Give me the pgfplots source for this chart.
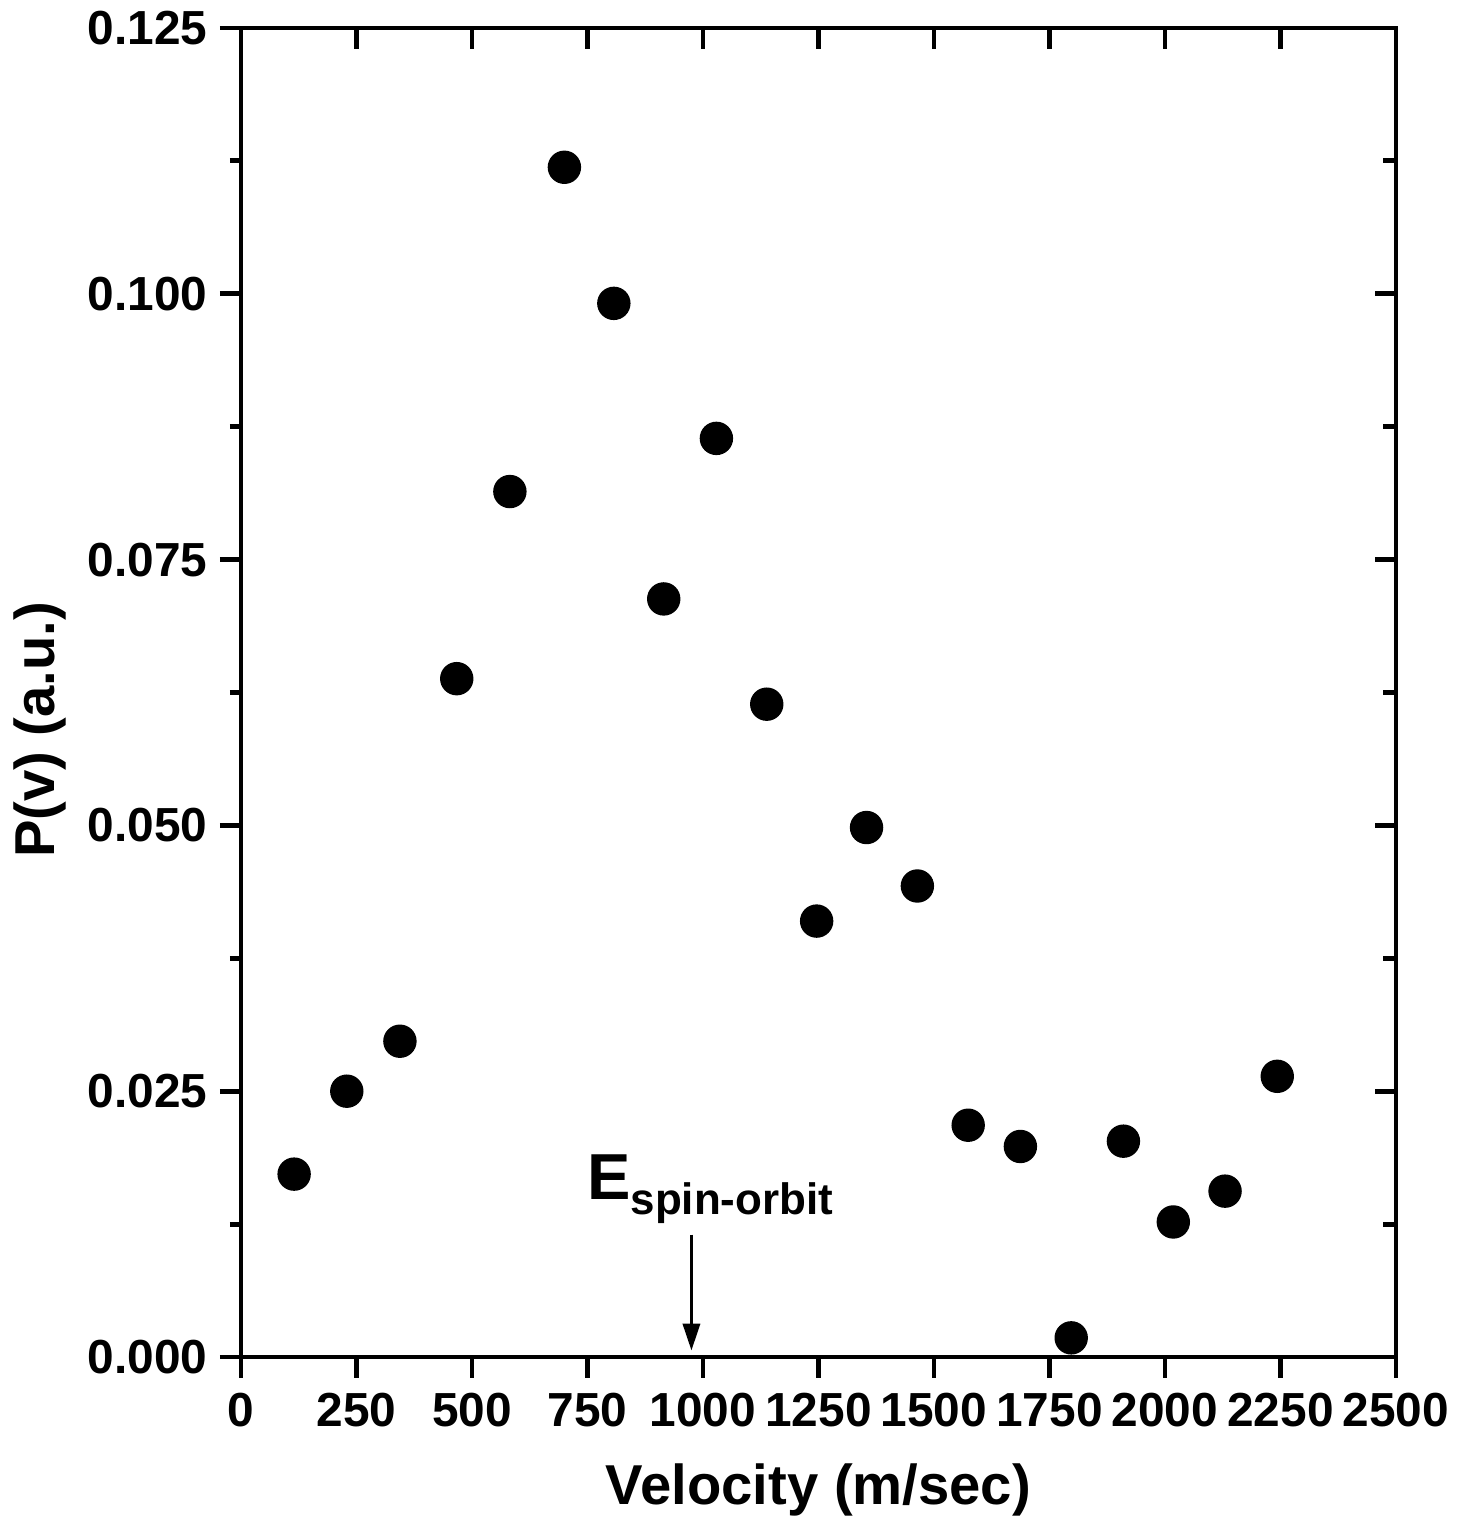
\documentclass[border=0pt]{standalone}
\usepackage{pgfplots}
\pgfplotsset{compat=1.18}
\usepackage{fontspec}
\setmainfont{Liberation Sans}
\usetikzlibrary{arrows.meta}
\begin{document}
\begin{tikzpicture}
\useasboundingbox (0,0) rectangle (146.3mm,152.6mm);
\pgfplotsset{
  common/.style={
    at={(24.1mm,16.9mm)}, anchor=south west,
    width=115.5mm, height=132.9mm, scale only axis,
    xmin=0, xmax=2500, ymin=0, ymax=0.125,
    xtick={0,250,...,2500},
    ytick={0,0.025,0.05,0.075,0.1,0.125},
    scaled y ticks=false,
    axis line style={line width=1.4pt, black},
    every tick/.style={black},
    major tick style={line width=1.4pt, black},
    minor tick style={line width=1.4pt, black},
    minor y tick num=1,
    /pgf/number format/assume math mode=true,
    tick label style={font=\fontsize{13.6}{15}\selectfont\bfseries},
  }
}
\begin{axis}[common,
  xtick pos=bottom, ytick pos=left, tick align=outside,
  major tick length=2.1mm, minor tick length=1.1mm,
  xticklabel style={/pgf/number format/1000 sep={}, yshift=-0.3mm},
  yticklabel style={/pgf/number format/fixed, /pgf/number format/fixed zerofill, /pgf/number format/precision=3, xshift=0mm},
  xlabel={Velocity (m/sec)},
  ylabel={P(v) (a.u.)},
  label style={font=\fontsize{16}{18}\selectfont\bfseries},
  xlabel style={yshift=-1.2mm},
  ylabel style={at={(axis description cs:-0.174,0.472)}, anchor=center},
]
\addplot[only marks, mark=*, mark size=1.6mm, mark options={fill=black, draw=black}] coordinates {
(115,0.0172) (229,0.0250) (344,0.0297) (467,0.0638) (582,0.0814)
(700,0.1119) (807,0.0991) (915,0.0713) (1029,0.0864) (1138,0.0614)
(1246,0.0410) (1354,0.0498) (1464,0.0443) (1574,0.0218) (1687,0.0198)
(1797,0.0018) (1910,0.0203) (2018,0.0127) (2130,0.0156) (2243,0.0264)
};
\draw[line width=1.0pt, -{Triangle[width=1.7mm,length=2.7mm]}] (axis cs:975,0.0115) -- (axis cs:975,0.0006);
\node[anchor=base west, inner sep=0pt, font=\bfseries] at (axis cs:748,0.0148) {{\fontsize{18.5}{20}\selectfont E}\raisebox{-1.5mm}{\fontsize{12.5}{14}\selectfont spin-orbit}};
\end{axis}
\begin{axis}[common,
  xtick pos=top, ytick pos=right, tick align=inside,
  major tick length=2.1mm, minor tick length=1.3mm,
  xticklabels={}, yticklabels={},
]
\end{axis}
\end{tikzpicture}
\end{document}
